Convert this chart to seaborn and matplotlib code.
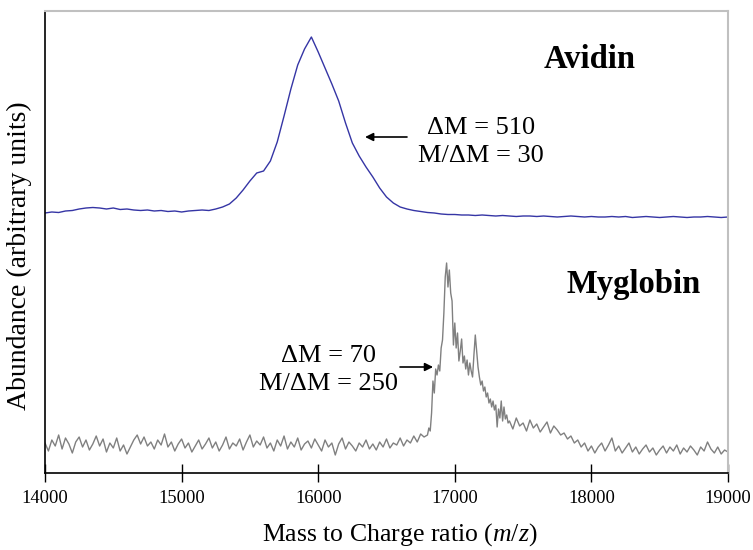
import matplotlib
matplotlib.use("Agg")
import matplotlib.pyplot as plt
import numpy as np
import pandas as pd
import seaborn as sns

# Avidin spectrum, sampled every 50 m/z from 14000 to 19000
avidin_mz = np.arange(14000, 19001, 50)
avidin_abund = [
    260, 261, 260.5, 262, 262.5, 264, 265, 265.5, 265, 264, 265, 263.5, 264, 263, 262.5, 263,
    262, 262.5, 261.5, 262, 261, 262, 262.5, 263, 262.5, 264, 266, 269, 275, 283, 292, 300,
    302, 312, 331, 357, 384, 408, 424, 436, 421, 405, 389, 372, 350, 330, 317, 306,
    296, 285, 276, 270, 266, 264, 262.5, 261.5, 260.5, 260, 259, 258.5, 258.5, 258, 258, 257.5,
    258, 257.5, 257, 257.5, 257, 256.5, 257, 257, 256.5, 257, 256.5, 256, 256.5, 257, 256.5, 256,
    256.5, 256, 256, 256.5, 256, 256.5, 255.5, 256, 256.5, 256, 255.5, 256, 256.5, 256, 255.5, 256,
    256, 256.5, 256, 255.5, 256,
]

# Myoglobin spectrum: baseline (step 25), peak region (step 10), tail (step 25)
myo_mz_base = np.arange(14000, 16800, 25)
myo_abund_base = [
    30, 22, 33, 27, 38, 24, 35, 29, 20, 31, 36, 26, 33, 23, 29, 37,
    27, 34, 21, 30, 25, 35, 22, 28, 19, 26, 33, 38, 29, 36, 27, 31,
    24, 33, 28, 39, 26, 31, 22, 29, 34, 25, 30, 21, 27, 33, 24, 29,
    35, 25, 31, 22, 28, 36, 24, 30, 27, 34, 23, 31, 38, 26, 32, 28,
    36, 25, 30, 22, 33, 27, 37, 24, 31, 26, 35, 23, 29, 32, 25, 34,
    28, 22, 33, 26, 30, 18, 29, 35, 24, 31, 27, 22, 30, 26, 33, 24,
    29, 23, 31, 26, 34, 25, 30, 28, 35, 27, 33, 30, 37, 31, 39, 36,
]
myo_mz_peak = np.arange(16800, 17400, 10)
myo_abund_peak = [
    38, 45, 42, 60, 92, 80, 104, 98, 108, 102,
    125, 133, 160, 196, 210, 186, 203, 180, 172, 128,
    150, 125, 140, 112, 122, 134, 110, 117, 104, 113,
    98, 110, 102, 96, 118, 138, 122, 106, 96, 88,
    92, 82, 86, 76, 80, 70, 74, 66, 72, 63,
    68, 46, 64, 55, 72, 52, 66, 54, 58, 50,
]
myo_mz_tail = np.arange(17400, 19001, 25)
myo_abund_tail = [
    52, 44, 55, 47, 50, 42, 53, 45, 49, 41, 46, 51, 40, 47, 43, 38,
    40, 34, 37, 30, 33, 26, 30, 22, 27, 20, 26, 30, 22, 28, 35, 22,
    27, 20, 25, 30, 21, 26, 19, 24, 28, 21, 25, 18, 23, 27, 20, 26,
    22, 28, 19, 25, 21, 27, 23, 18, 26, 22, 31, 24, 20, 26, 19, 23,
    21,
]

x_ticks = [14000, 15000, 16000, 17000, 18000, 19000]

avidin_df = pd.DataFrame({"mz": avidin_mz, "abundance": avidin_abund})
myo_df = pd.DataFrame({
    "mz": np.concatenate([myo_mz_base, myo_mz_peak, myo_mz_tail]),
    "abundance": myo_abund_base + myo_abund_peak + myo_abund_tail,
})

sns.set_style("white")
plt.rcParams["font.family"] = ["Liberation Serif", "DejaVu Serif"]
plt.rcParams["mathtext.fontset"] = "custom"
plt.rcParams["mathtext.rm"] = "Liberation Serif"
plt.rcParams["mathtext.it"] = "Liberation Serif:italic"
plt.rcParams["text.color"] = "black"
plt.rcParams["axes.labelcolor"] = "black"
plt.rcParams["xtick.color"] = "black"

fig = plt.figure(figsize=(7.53, 5.5), dpi=100)
ax = fig.add_axes([45 / 753, 77 / 550, 683 / 753, 462 / 550])

sns.lineplot(avidin_df, x="mz", y="abundance", color="#3535a5", linewidth=1.0,
             estimator=None, sort=False, ax=ax)
sns.lineplot(myo_df, x="mz", y="abundance", color="#808080", linewidth=1.0,
             estimator=None, sort=False, ax=ax)

ax.set_xlim(14000, 19000)
ax.set_ylim(0, 462)
ax.set_xticks(x_ticks)
ax.set_xticklabels([str(t) for t in x_ticks])
ax.set_yticks([])
ax.tick_params(axis="x", direction="inout", length=13, width=1, color="black",
               labelcolor="black", labelsize=13.3, pad=6, bottom=True)

for side in ["left", "bottom"]:
    ax.spines[side].set_color("black")
    ax.spines[side].set_linewidth(1.2)
for side in ["top", "right"]:
    ax.spines[side].set_color("#c0c0c0")
    ax.spines[side].set_linewidth(1.5)

ax.set_xlabel("Mass to Charge ratio ($\\it{m/z}$)", fontsize=18.5)
ax.xaxis.set_label_coords(0.52, -0.105)
ax.set_ylabel("Abundance (arbitrary units)", fontsize=20, va="center")
ax.yaxis.set_label_coords(-0.037, 0.47)

ax.text(17990, 413, "Avidin", fontsize=23.5, fontweight="bold", ha="center", va="center")
ax.text(18312, 188, "Myglobin", fontsize=23.5, fontweight="bold", ha="center", va="center")

ax.text(17192, 331, "\u0394M = 510\nM/\u0394M = 30", fontsize=19, ha="center",
        va="center", linespacing=1.4)
ax.text(16079, 103, "\u0394M = 70\nM/\u0394M = 250", fontsize=19, ha="center",
        va="center", linespacing=1.4)

arrow = dict(arrowstyle="-|>", color="black", lw=1.2, mutation_scale=12,
             shrinkA=0, shrinkB=0)
ax.annotate("", xy=(16343, 336), xytext=(16650, 336), arrowprops=arrow)
ax.annotate("", xy=(16841, 106), xytext=(16599, 106), arrowprops=arrow)

fig.savefig("out.png", dpi=100)
